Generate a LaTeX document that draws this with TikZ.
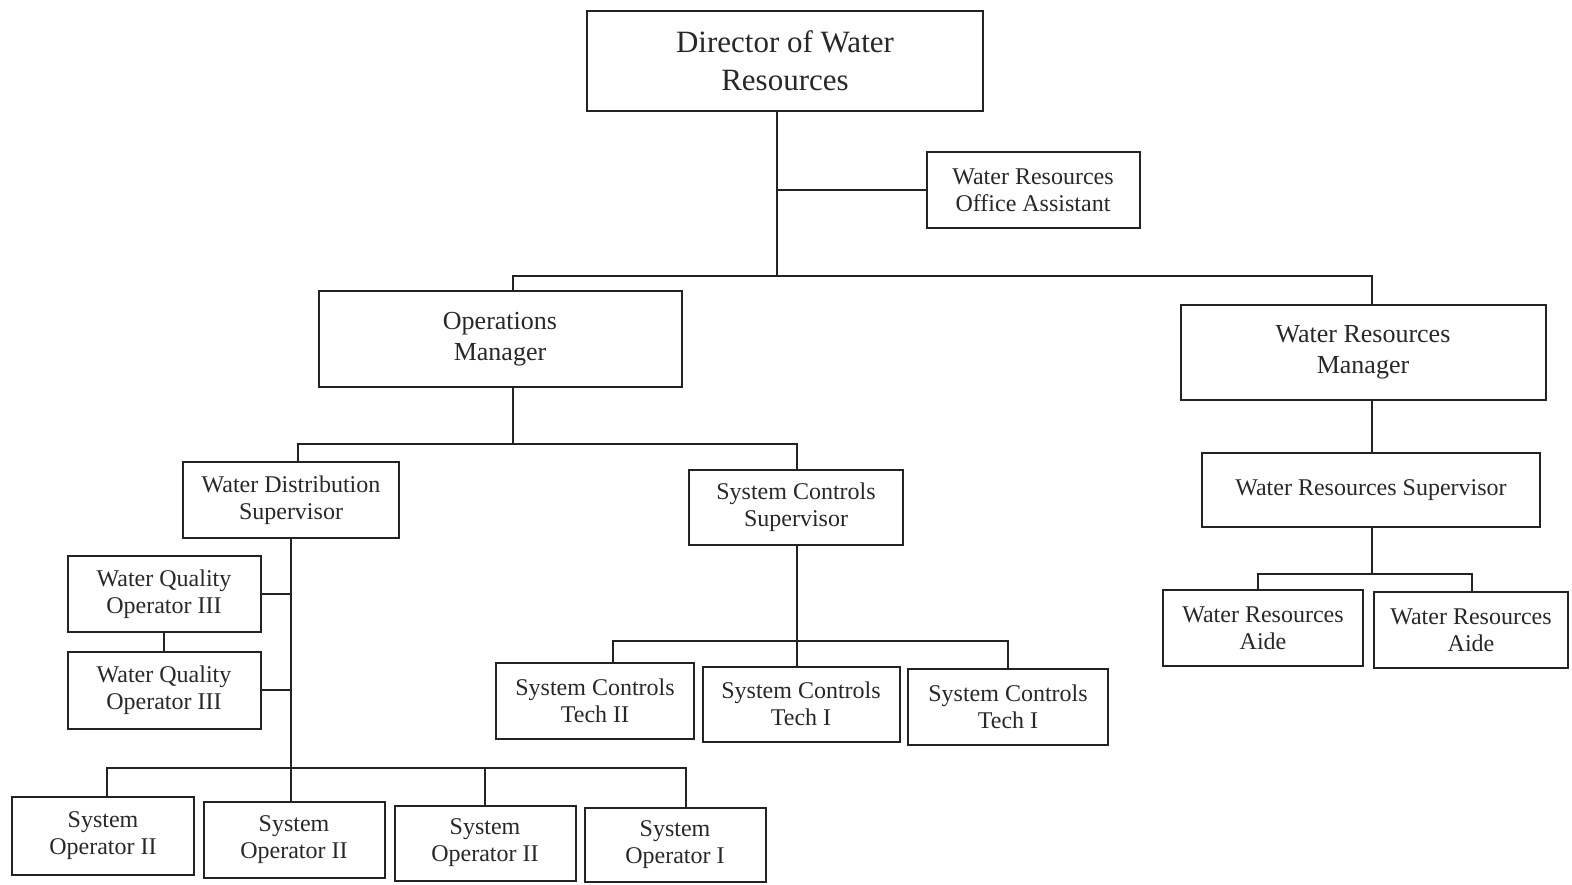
\documentclass[tikz,border=0pt]{standalone}
\usepackage{fontspec}
\setmainfont{Liberation Serif}
\usepackage{tikz}
\usetikzlibrary{positioning}
\definecolor{boxline}{RGB}{35,35,35}
\definecolor{textgray}{RGB}{40,40,40}
\tikzset{
  box/.style={rectangle, draw=boxline, line width=2pt, text=textgray,
    align=center, inner sep=0pt, font=\fontsize{24}{27}\selectfont},
  mgrbox/.style={box, font=\fontsize{26}{31}\selectfont},
  topbox/.style={box, font=\fontsize{31}{38}\selectfont},
  line/.style={draw=boxline, line width=2pt}
}
\begin{document}
\begin{tikzpicture}[x=1pt, y=-1pt]
  \useasboundingbox (0,0) rectangle (1572,884);
  % top
  \node[topbox, minimum width=396pt, minimum height=100pt] (dir) at (785,61) {Director of Water\\Resources};
  \node[box, minimum width=213pt, minimum height=76pt] (asst) at (1033,190) {Water Resources\\Office Assistant};
  % managers
  \node[mgrbox, minimum width=363pt, minimum height=96pt] (opsmgr) at (500,339) {Operations\\Manager};
  \node[mgrbox, minimum width=365pt, minimum height=95pt] (wrmgr) at (1363,352) {Water Resources\\Manager};
  % supervisors
  \node[box, minimum width=216pt, minimum height=76pt] (wds) at (291,500) {Water Distribution\\Supervisor};
  \node[box, minimum width=214pt, minimum height=75pt] (scs) at (796,507) {System Controls\\Supervisor};
  \node[box, minimum width=338pt, minimum height=74pt] (wrs) at (1371,490) {Water Resources Supervisor};
  % water distribution staff
  \node[box, minimum width=193pt, minimum height=76pt] (wq1) at (164,594) {Water Quality\\Operator III};
  \node[box, minimum width=193pt, minimum height=77pt] (wq2) at (164,690) {Water Quality\\Operator III};
  \node[box, minimum width=182pt, minimum height=78pt] (sop1) at (103,836) {System\\Operator II};
  \node[box, minimum width=181pt, minimum height=76pt] (sop2) at (294,840) {System\\Operator II};
  \node[box, minimum width=181pt, minimum height=75pt] (sop3) at (485,843) {System\\Operator II};
  \node[box, minimum width=181pt, minimum height=74pt] (sop4) at (675,845) {System\\Operator I};
  % system controls staff
  \node[box, minimum width=198pt, minimum height=76pt] (tech2) at (595,701) {System Controls\\Tech II};
  \node[box, minimum width=197pt, minimum height=75pt] (tech1a) at (801,704) {System Controls\\Tech I};
  \node[box, minimum width=200pt, minimum height=76pt] (tech1b) at (1008,707) {System Controls\\Tech I};
  % water resources staff
  \node[box, minimum width=200pt, minimum height=76pt] (aide1) at (1263,628) {Water Resources\\Aide};
  \node[box, minimum width=194pt, minimum height=76pt] (aide2) at (1471,630) {Water Resources\\Aide};

  % director branches
  \coordinate (dirbus) at (777,276);
  \coordinate (opstap) at (513,276);
  \coordinate (wrtap) at (1372,276);
  \draw[line] (dirbus |- dir.south) -- (dirbus);
  \draw[line] (dirbus |- asst.west) -- (asst.west);
  \draw[line] (opstap |- opsmgr.north) -- (opstap) -- (wrtap) -- (wrtap |- wrmgr.north);
  % operations branches
  \coordinate (opsbus) at (513,444);
  \coordinate (wdstap) at (298,444);
  \coordinate (scstap) at (797,444);
  \draw[line] (opsbus |- opsmgr.south) -- (opsbus);
  \draw[line] (wdstap |- wds.north) -- (wdstap) -- (scstap) -- (scstap |- scs.north);
  % water distribution
  \coordinate (wdsbus) at (291,768);
  \coordinate (sop1tap) at (107,768);
  \coordinate (sop4tap) at (686,768);
  \draw[line] (wdsbus |- wds.south) -- (wdsbus);
  \draw[line] (wq1.east) -- (wq1.east -| wdsbus);
  \draw[line] (wq2.east) -- (wq2.east -| wdsbus);
  \draw[line] (wq1.south) -- (wq2.north);
  \draw[line] (sop1tap |- sop1.north) -- (sop1tap) -- (sop4tap) -- (sop4tap |- sop4.north);
  \draw[line] (wdsbus) -- (wdsbus |- sop2.north);
  \draw[line] (sop3.north) -- (sop3.north |- wdsbus);
  % system controls
  \coordinate (scsbus) at (797,641);
  \coordinate (t2tap) at (613,641);
  \coordinate (t1btap) at (1008,641);
  \draw[line] (scsbus |- scs.south) -- (scsbus);
  \draw[line] (t2tap |- tech2.north) -- (t2tap) -- (t1btap) -- (t1btap |- tech1b.north);
  \draw[line] (scsbus) -- (scsbus |- tech1a.north);
  % water resources
  \coordinate (wrsbus) at (1372,574);
  \coordinate (a1tap) at (1258,574);
  \coordinate (a2tap) at (1472,574);
  \draw[line] (wrtap |- wrmgr.south) -- (wrtap |- wrs.north);
  \draw[line] (wrsbus |- wrs.south) -- (wrsbus);
  \draw[line] (a1tap |- aide1.north) -- (a1tap) -- (a2tap) -- (a2tap |- aide2.north);
\end{tikzpicture}
\end{document}
